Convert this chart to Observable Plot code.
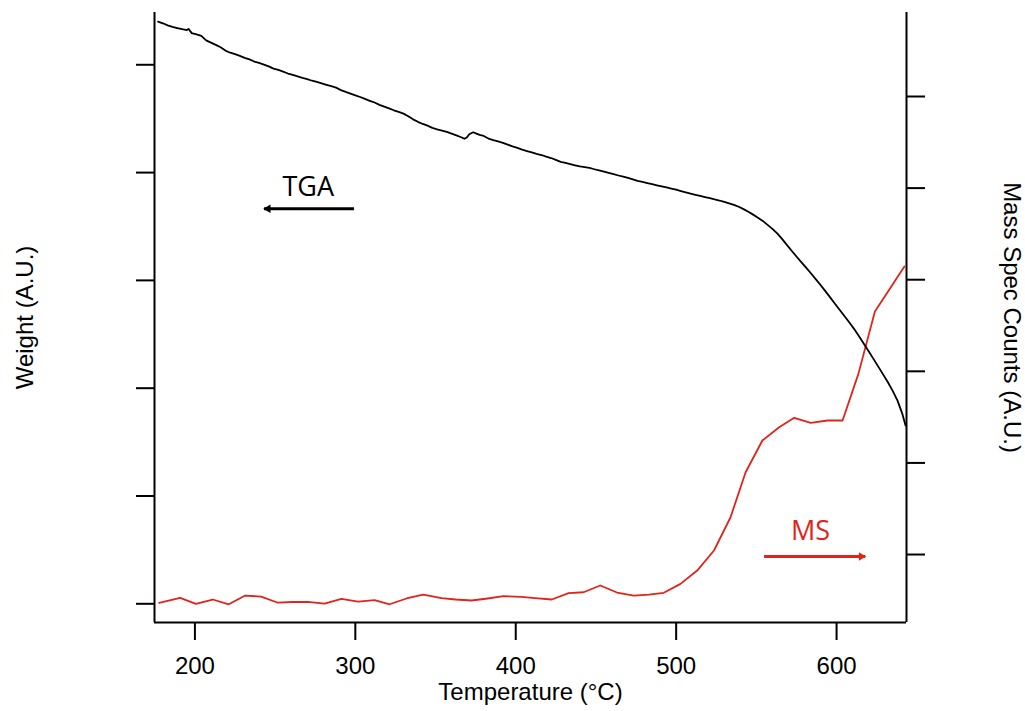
<!DOCTYPE html>
<html><head><meta charset="utf-8">
<script src="https://cdn.jsdelivr.net/npm/d3@7"></script>
<script src="https://cdn.jsdelivr.net/npm/@observablehq/plot@0.6"></script>
<style>html,body{margin:0;padding:0;background:#fff;}</style>
</head><body><div id="chart"></div>
<script>
// ---- scales / ticks ----
const tempDomain = [174.8, 643.6];
const weightDomain = [-0.1735, 5.485];
const msDomain = [-0.742, 5.917];
const xTicks = [200, 300, 400, 500, 600];
const weightTicks = [0, 1, 2, 3, 4, 5];
const msTicks = [0, 1, 2, 3, 4, 5];

// ---- TGA (weight, left axis) ----
const tgaTemp = [177,180,183,186,189,192,195,196,198,201,204,207,210,213,216,219,222,225,228,231,234,237,240,243,246,249,252,255,258,261,264,267,270,273,276,279,282,285,288,291,294,297,300,303,306,309,312,315,318,321,324,327,330,333,336,339,342,345,348,351,354,357,360,363,366,368,369.5,371,373.5,375.5,377.5,380,383,386,389,392,395,398,401,404,407,410,413,416,419,422,425,428,431,434,437,440,443,446,449,452,455,458,461,464,467,470,473,476,479,482,485,488,491,494,497,500,503,506,509,512,515,518,521,524,527,530,533,536,539,542,545,548,551,554,557,560,563,566,569,572,575,578,581,584,587,590,593,596,599,602,605,608,611,614,617,620,623,626,629,632,635,638,641,643];
const tgaWeight = [5.400,5.385,5.366,5.352,5.341,5.330,5.322,5.333,5.294,5.283,5.268,5.226,5.205,5.185,5.162,5.132,5.112,5.098,5.083,5.064,5.050,5.030,5.018,5.001,4.985,4.964,4.952,4.936,4.919,4.907,4.893,4.878,4.866,4.852,4.841,4.827,4.814,4.801,4.788,4.765,4.748,4.733,4.717,4.701,4.683,4.666,4.650,4.628,4.612,4.596,4.578,4.563,4.547,4.523,4.494,4.471,4.451,4.435,4.415,4.401,4.390,4.377,4.361,4.345,4.328,4.314,4.325,4.356,4.374,4.362,4.350,4.340,4.316,4.302,4.290,4.276,4.259,4.243,4.229,4.213,4.200,4.187,4.174,4.163,4.148,4.135,4.118,4.100,4.090,4.079,4.068,4.058,4.051,4.043,4.031,4.020,4.008,3.997,3.985,3.973,3.962,3.951,3.937,3.923,3.913,3.903,3.892,3.882,3.872,3.863,3.852,3.841,3.828,3.816,3.805,3.794,3.784,3.773,3.762,3.752,3.741,3.728,3.715,3.701,3.683,3.661,3.637,3.610,3.582,3.552,3.515,3.478,3.436,3.385,3.330,3.275,3.222,3.170,3.118,3.066,3.012,2.957,2.900,2.842,2.784,2.726,2.668,2.609,2.548,2.482,2.413,2.343,2.272,2.200,2.128,2.055,1.975,1.885,1.762,1.654];

// ---- MS (counts, right axis) ----
const msTemp = [177.7,190.8,200.6,211.1,221.1,231.4,241.3,251.3,261,270.4,280.8,291.3,301.7,312,321.4,331.9,342.3,353.75,362.5,372.5,382.5,392.3,403.75,412,422.5,432.9,442.3,452.7,463.1,473.6,483,492.3,502.7,513.1,523.6,533.9,543.3,553.75,564.2,573.6,583.9,594.4,603.75,613.6,623.9,642.3];
const msCounts = [-0.527,-0.473,-0.538,-0.491,-0.543,-0.448,-0.459,-0.524,-0.518,-0.516,-0.535,-0.484,-0.513,-0.498,-0.543,-0.480,-0.437,-0.477,-0.491,-0.502,-0.480,-0.455,-0.462,-0.475,-0.491,-0.422,-0.412,-0.338,-0.415,-0.448,-0.437,-0.418,-0.320,-0.175,0.044,0.407,0.898,1.245,1.390,1.492,1.438,1.463,1.463,1.972,2.653,3.144];

// ---- annotations (data units) ----
const tgaLabel = {text: "TGA", t: 270.6, w: 3.862};
const tgaArrow = {t1: 299.2, t2: 243.1, w: 3.664};
const msLabel = {text: "MS", t: 583.8, c: 0.251};
const msArrow = {t1: 554.8, t2: 617.9, c: -0.022};

const xLabel = "Temperature (°C)";
const yLeftLabel = "Weight (A.U.)";
const yRightLabel = "Mass Spec Counts (A.U.)";

const RED = "#e2231a";
const msToY = d3.scaleLinear().domain(msDomain).range(weightDomain);

const tga = tgaTemp.map((t, i) => ({t, w: tgaWeight[i]}));
const ms = msTemp.map((t, i) => ({t, c: msCounts[i]}));

const chart = Plot.plot({
  width: 1025, height: 711,
  marginLeft: 154, marginRight: 119, marginTop: 12, marginBottom: 89,
  x: {domain: tempDomain},
  y: {domain: weightDomain},
  style: {fontFamily: "'Liberation Sans', Arial, sans-serif", fontSize: "24px", background: "white", overflow: "visible"},
  marks: [
    Plot.axisX({ticks: xTicks, tickSize: 18, tickPadding: 16, tickFormat: d => String(d), label: null, strokeWidth: 2, fontSize: 24}),
    Plot.axisY({anchor: "left", ticks: weightTicks, tickSize: 18, tickFormat: () => "", label: null, strokeWidth: 2}),
    Plot.axisY({anchor: "right", ticks: msTicks.map(msToY), tickSize: 18, tickFormat: () => "", label: null, strokeWidth: 2}),
    Plot.ruleX([tempDomain[0], tempDomain[1]], {stroke: "black", strokeWidth: 2}),
    Plot.ruleY([weightDomain[0]], {stroke: "black", strokeWidth: 2}),
    Plot.line(ms, {x: "t", y: d => msToY(d.c), stroke: RED, strokeWidth: 1.8}),
    Plot.line(tga, {x: "t", y: "w", stroke: "black", strokeWidth: 1.8}),
    // TGA annotation
    Plot.text([tgaLabel], {x: "t", y: "w", text: "text", fontFamily: "'Open Sans', sans-serif", fontSize: 27, fill: "black"}),
    Plot.link([tgaArrow], {x1: "t1", x2: "t2", y1: "w", y2: "w", stroke: "black", strokeWidth: 3}),
    Plot.dot([tgaArrow], {x: "t2", y: "w", symbol: "triangle2", rotate: -90, r: 4, fill: "black", dx: 4}),
    // MS annotation
    Plot.text([msLabel], {x: "t", y: d => msToY(d.c), text: "text", fontFamily: "'Open Sans', sans-serif", fontSize: 27, fill: RED}),
    Plot.link([msArrow], {x1: "t1", x2: "t2", y1: d => msToY(d.c), y2: d => msToY(d.c), stroke: RED, strokeWidth: 3}),
    Plot.dot([msArrow], {x: "t2", y: d => msToY(d.c), symbol: "triangle2", rotate: 90, r: 4, fill: RED, dx: -4}),
    // axis titles
    Plot.text([xLabel], {text: d => d, frameAnchor: "bottom", dy: 70, lineAnchor: "middle", textAnchor: "middle", fontSize: 24}),
    Plot.text([yLeftLabel], {text: d => d, frameAnchor: "left", dx: -129, rotate: -90, lineAnchor: "middle", textAnchor: "middle", fontSize: 24}),
    Plot.text([yRightLabel], {text: d => d, frameAnchor: "right", dx: 105, rotate: 90, lineAnchor: "middle", textAnchor: "middle", fontSize: 24})
  ]
});
document.getElementById("chart").appendChild(chart);
</script>
</body></html>
